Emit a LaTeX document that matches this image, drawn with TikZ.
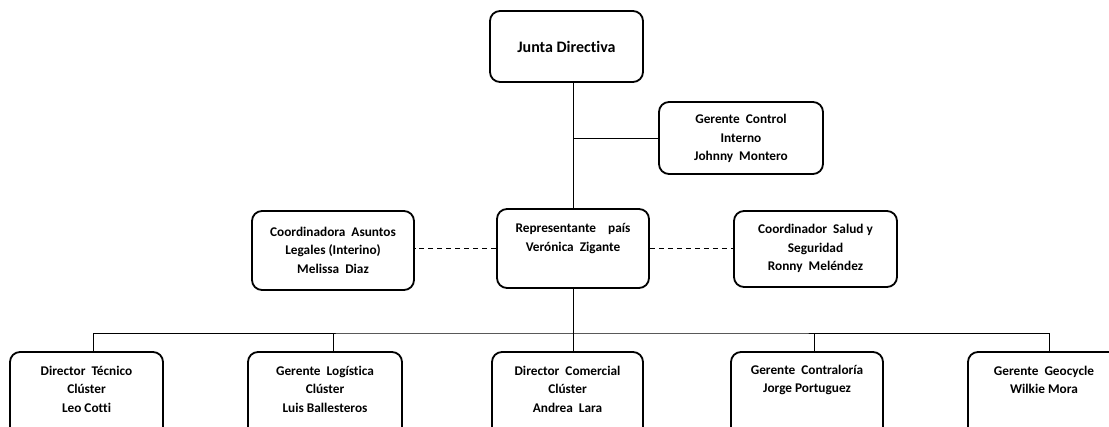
\documentclass[tikz,border=0pt]{standalone}
\usepackage{fontspec}
\setmainfont{Carlito}[Ligatures={NoCommon}]
\begin{document}
\begin{tikzpicture}[x=1pt,y=-1pt,
  box/.style={draw=black,line width=1.8pt,rounded corners=10pt,rectangle,inner sep=0pt},
  txt/.style={align=center,inner sep=0pt,font=\bfseries\fontsize{13.3}{18.5}\selectfont,text=black},
  conn/.style={draw=black,line width=0.8pt},
  dconn/.style={draw=black,line width=0.8pt,dash pattern=on 5pt off 4pt}]
\clip (0,0) rectangle (1109,426);
\fill[white] (0,0) rectangle (1109,426);
% boxes
\node[box,minimum width=153pt,minimum height=71pt] (junta) at (566.5,46.5) {};
\node[box,minimum width=164pt,minimum height=72pt] (ctrl) at (741,138) {};
\node[box,minimum width=162pt,minimum height=79pt] (legal) at (333,250.5) {};
\node[box,minimum width=152pt,minimum height=79pt] (rep) at (573,248.5) {};
\node[box,minimum width=163pt,minimum height=76pt] (salud) at (815.5,249) {};
\node[box,minimum width=153pt,minimum height=90pt] (b1) at (86.5,397) {};
\node[box,minimum width=154pt,minimum height=90pt] (b2) at (325,397) {};
\node[box,minimum width=151pt,minimum height=90pt] (b3) at (567.5,397) {};
\node[box,minimum width=152pt,minimum height=90pt] (b4) at (807,397) {};
\node[box,minimum width=152pt,minimum height=90pt] (b5) at (1044,397) {};
% texts
\node[txt,font=\bfseries\fontsize{16}{19}\selectfont] (tjunta) at (junta.center) {Junta Directiva};
\node[txt] (tctrl) at (741,138.5) {Gerente\ \ Control\\Interno\\Johnny\ \ Montero};
\node[txt] (tlegal) at (333,250) {Coordinadora\ \ Asuntos\\Legales (Interino)\\Melissa\ \ Diaz};
\node[txt] (trep) at (573,238.5) {Representante\ \ \ \ país\\Verónica\ \ Zigante};
\node[txt] (tsalud) at (815.5,248.5) {Coordinador\ \ Salud y\\Seguridad\\Ronny\ \ Meléndez};
\node[txt] (tb1) at (86.5,389) {Director\ \ Técnico\\Clúster\\Leo Cotti};
\node[txt] (tb2) at (325,389) {Gerente\ \ Logística\\Clúster\\Luis Ballesteros};
\node[txt] (tb3) at (567.5,389) {Director\ \ Comercial\\Clúster\\Andrea\ \ Lara};
\node[txt] (tb4) at (807,380) {Gerente\ \ Contraloría\\Jorge Portuguez};
\node[txt] (tb5) at (1044,380) {Gerente\ \ Geocycle\\Wilkie Mora};
% connectors
\coordinate (bus) at (573,333);
\draw[conn] (rep.north) -- (rep.north |- junta.south);
\draw[conn] (ctrl.west) -- (ctrl.west -| rep.north);
\draw[dconn] (rep.west) -- (rep.west -| legal.east);
\draw[dconn] (rep.east) -- (rep.east -| salud.west);
\draw[conn] (rep.south) -- (bus);
\draw[conn] ([xshift=6.5pt]b1.north) |- (bus) -| ([xshift=5pt]b5.north);
\draw[conn] ([xshift=8pt]b2.north) -- ([xshift=8pt]b2.north |- bus);
\draw[conn] (b3.north -| bus) -- (bus);
\draw[conn] ([xshift=7pt]b4.north) -- ([xshift=7pt]b4.north |- bus);
\end{tikzpicture}
\end{document}
